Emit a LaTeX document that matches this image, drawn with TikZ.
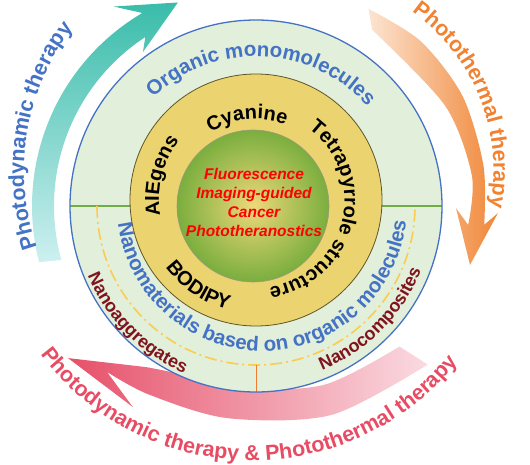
\documentclass[tikz,border=0pt]{standalone}
\usepackage{fontspec}
\setmainfont{Liberation Sans}
\usetikzlibrary{decorations.text}

\definecolor{ringblue}{RGB}{68,114,196}
\definecolor{discgreen}{RGB}{226,239,218}
\definecolor{ringyellow}{RGB}{235,212,112}
\definecolor{ringedge}{RGB}{95,85,40}
\definecolor{coregreen}{RGB}{122,174,62}
\definecolor{corelight}{RGB}{238,216,122}
\definecolor{splitgreen}{RGB}{112,173,71}
\definecolor{dashyellow}{RGB}{250,205,80}
\definecolor{tickorange}{RGB}{237,125,49}
\definecolor{nanored}{RGB}{128,20,30}
\definecolor{tealdark}{RGB}{58,188,170}
\definecolor{teallight}{RGB}{205,240,240}
\definecolor{orangedark}{RGB}{240,135,55}
\definecolor{orangelight}{RGB}{252,228,210}
\definecolor{pinkdark}{RGB}{230,80,105}
\definecolor{pinklight}{RGB}{250,218,225}
\definecolor{pttorange}{RGB}{240,130,50}
\definecolor{combopink}{RGB}{232,76,100}

\newcommand{\outerfont}{\fontsize{21.5}{25}\selectfont\bfseries}
\newcommand{\discfont}{\fontsize{20.5}{24}\selectfont\bfseries}
\newcommand{\ringfont}{\fontsize{20}{24}\selectfont\bfseries}
\newcommand{\nanofont}{\fontsize{18}{22}\selectfont\bfseries}
\newcommand{\corefont}{\fontsize{15.5}{19}\selectfont\bfseries\itshape}

\begin{document}
\begin{tikzpicture}[x=1pt,y=1pt,
  arclabel/.style={decorate,decoration={text along path,text align=center,text={#1}}}]
\useasboundingbox (0,0) rectangle (530,464);

% therapy arrows
\begin{scope}[shift={(256,258)}]
\shade[top color=tealdark,bottom color=teallight] (194.5:224) arc[start angle=194.5,end angle=120.5,radius=224] -- (125.5:245) -- (111:218) -- (126.3:191) -- (122.6:204.5) -- (122.6:202) arc[start angle=122.6,end angle=195.5,radius=202] -- cycle;
\shade[left color=orangelight,right color=orangedark] plot[smooth] coordinates {(60.3:227) (45:233) (28:234) (10:231) (-4.7:229)} -- (-1.7:242) -- (-15.4:222) -- (-0.6:200) -- (-5.1:213) -- plot[smooth] coordinates {(-5.1:213) (8:218) (28:214) (56.6:211)} -- cycle;
\end{scope}
\begin{scope}[shift={(270,279)}]
\shade[left color=pinkdark,middle color=pinkdark!85!pinklight,right color=pinklight] plot[smooth] coordinates {(311.3:239) (285:238) (259.7:237) (240:242) (228.9:248)} -- (238.3:261) -- (220.6:266) -- (235.9:220) -- plot[smooth] coordinates {(235.9:220) (245:209) (259.7:207) (285:207) (308.7:207)} -- cycle;
\end{scope}

% disc and rings
\fill[discgreen] (256,258) circle[radius=186];
\draw[splitgreen,line width=2.5pt] (70,258) -- (130,258);
\draw[splitgreen,line width=2.5pt] (382,258) -- (442,258);
\draw[dashyellow,line width=1.6pt,dash pattern=on 12pt off 4pt on 2pt off 4pt] (97,258) arc[start angle=180,end angle=360,radius=159];
\draw[tickorange,line width=1pt] (256,99) -- (256,72);
\draw[ringblue,line width=1.3pt] (256,258) circle[radius=186];
\filldraw[fill=ringyellow,draw=ringedge,line width=0.8pt] (256,264) circle[radius=126];
\shade[inner color=corelight,outer color=coregreen] (253,258) circle[radius=76];
\draw[ringedge!60,line width=0.6pt] (253,258) circle[radius=76];
\node[align=center,text=red,font=\corefont] (core) at (254,262) {Fluorescence\\Imaging-guided\\Cancer\\Phototheranostics};

% labels along the circles
\path[arclabel={|\discfont\color{ringblue}|Organic monomolecules}] (256,258) ++(167.6:149.5) arc[start angle=167.6,end angle=7.6,radius=149.5];
\path[arclabel={|\ringfont|Cyanine}] (256,264) ++(146.2:81) arc[start angle=146.2,end angle=46.2,radius=81];
\path[arclabel={|\ringfont|AIEgens}] (256,264) ++(225.8:97) arc[start angle=225.8,end angle=105.8,radius=97];
\path[arclabel={|\ringfont|Tetrapyrrole structure}] (256,264) ++(76:88.5) arc[start angle=76,end angle=-104,radius=88.5];
\path[arclabel={|\ringfont|BODIPY}] (256,264) ++(186.2:113) arc[start angle=186.2,end angle=286.2,radius=113];
\path[arclabel={|\discfont\color{ringblue}|Nanomaterials based on organic molecules}] (262,258) ++(175.6:145) arc[start angle=175.6,end angle=365.6,radius=145];
\path[arclabel={|\nanofont\color{nanored}|Nanoaggregates}] (256,258) ++(184.6:182) arc[start angle=184.6,end angle=264.6,radius=182];
\path[arclabel={|\nanofont\color{nanored}|Nanocomposites}] (256,258) ++(275.4:177) arc[start angle=275.4,end angle=355.4,radius=177];

\path[arclabel={|\outerfont\color{ringblue}|Photodynamic therapy}] (256,293) ++(260.6:232) arc[start angle=260.6,end angle=80.6,radius=232];
\path[arclabel={|\outerfont\color{pttorange}|Photothermal therapy}] (300,294) ++(111.8:193.5) arc[start angle=111.8,end angle=-68.2,radius=193.5];
\path[arclabel={|\outerfont\color{combopink}|Photodynamic therapy {\&} Photothermal therapy}] (252,268) ++(179:264.5) arc[start angle=179,end angle=359,radius=264.5];
\end{tikzpicture}
\end{document}
